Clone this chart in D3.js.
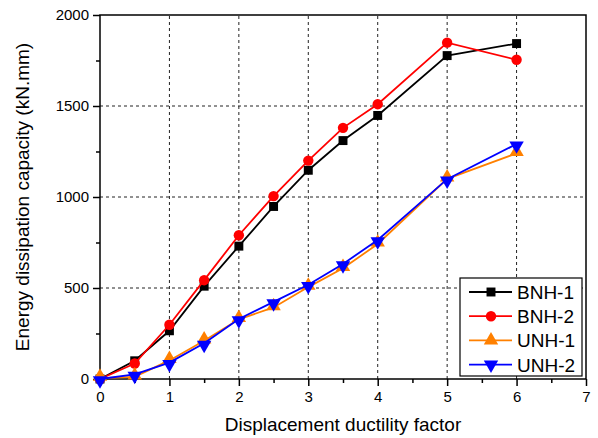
<head>
    <meta charset="utf-8" />
    <script src="https://d3js.org/d3.v7.min.js"></script>
</head>
<style>
    body { margin: 0; background: #fff; }
    text { font-family: "Liberation Sans", Arial, sans-serif; }
</style>
<body>
</body>
<script>
// ductility factor and energy values
var ductility = [0, 0.5, 1, 1.5, 2, 2.5, 3, 3.5, 4, 5, 6];
var bnh1 = [0, 100, 265, 510, 730, 948, 1147, 1310, 1448, 1777, 1843];
var bnh2 = [0, 85, 298, 543, 790, 1005, 1200, 1380, 1510, 1848, 1754];
var unh1 = [5, 12, 102, 210, 328, 393, 505, 608, 742, 1100, 1240];
var unh2 = [0, 25, 90, 196, 330, 424, 518, 632, 764, 1098, 1291];
var seriesNames = ["BNH-1", "BNH-2", "UNH-1", "UNH-2"];
var seriesColors = ["#000000", "#ff0000", "#ff8000", "#0000ff"];
var xTicks = [0, 1, 2, 3, 4, 5, 6, 7];
var yTicks = [0, 500, 1000, 1500, 2000];

var series = [bnh1, bnh2, unh1, unh2].map(function (vals, i) {
    return {
        name: seriesNames[i],
        color: seriesColors[i],
        values: vals.map(function (v, j) { return {x: ductility[j], y: v}; })
    };
});

var width = 598, height = 438;
var margin = {left: 100, top: 15, right: 12, bottom: 59};

var svg = d3.select("body").append("svg")
    .attr("width", width)
    .attr("height", height);

var x = d3.scaleLinear().domain([0, 7]).range([margin.left, width - margin.right]);
var y = d3.scaleLinear().domain([0, 2000]).range([height - margin.bottom, margin.top]);

// grid
svg.append("g").selectAll("line")
    .data([1, 2, 3, 4, 5, 6])
    .enter().append("line")
    .attr("x1", function (d) { return x(d); })
    .attr("x2", function (d) { return x(d); })
    .attr("y1", y(0)).attr("y2", y(2000))
    .attr("stroke", "#222").attr("stroke-width", 1)
    .attr("stroke-dasharray", "3,3");
svg.append("g").selectAll("line")
    .data([500, 1000, 1500])
    .enter().append("line")
    .attr("y1", function (d) { return y(d); })
    .attr("y2", function (d) { return y(d); })
    .attr("x1", x(0)).attr("x2", x(7))
    .attr("stroke", "#222").attr("stroke-width", 1)
    .attr("stroke-dasharray", "3,3");

// frame
svg.append("rect")
    .attr("x", x(0)).attr("y", y(2000))
    .attr("width", x(7) - x(0)).attr("height", y(0) - y(2000))
    .attr("fill", "none").attr("stroke", "#000").attr("stroke-width", 1.5);

// axes
svg.append("g")
    .attr("transform", "translate(0," + y(0) + ")")
    .call(d3.axisBottom(x).tickValues(xTicks).tickFormat(d3.format("d")).tickSize(7).tickPadding(5));
svg.append("g")
    .attr("transform", "translate(0," + y(0) + ")")
    .call(d3.axisBottom(x).tickValues([0.5, 1.5, 2.5, 3.5, 4.5, 5.5, 6.5]).tickFormat("").tickSize(4));
svg.append("g")
    .attr("transform", "translate(" + x(0) + ",0)")
    .call(d3.axisLeft(y).tickValues(yTicks).tickFormat(d3.format("d")).tickSize(7).tickPadding(4));
svg.append("g")
    .attr("transform", "translate(" + x(0) + ",0)")
    .call(d3.axisLeft(y).tickValues([250, 750, 1250, 1750]).tickFormat("").tickSize(4));

svg.selectAll(".domain").remove();
svg.selectAll(".tick line").attr("stroke", "#000").attr("stroke-width", 1.5);
svg.selectAll(".tick text")
    .attr("fill", "#000")
    .style("font-size", "15px")
    .style("font-family", "Liberation Sans, Arial, sans-serif");

// axis titles
svg.append("text")
    .attr("x", (x(0) + x(7)) / 2)
    .attr("y", 431)
    .attr("text-anchor", "middle")
    .style("font-size", "19px")
    .text("Displacement ductility factor");
svg.append("text")
    .attr("transform", "translate(29," + ((y(0) + y(2000)) / 2) + ") rotate(-90)")
    .attr("text-anchor", "middle")
    .style("font-size", "19px")
    .text("Energy dissipation capacity (kN.mm)");

// markers
var symbols = [d3.symbolSquare, d3.symbolCircle, d3.symbolTriangle, d3.symbolTriangle];
var symSizes = [80, 85, 90, 90];
var symRot = [0, 0, 0, 180];
function markerPath(i) { return d3.symbol().type(symbols[i]).size(symSizes[i])(); }

var line = d3.line()
    .x(function (d) { return x(d.x); })
    .y(function (d) { return y(d.y); });

series.forEach(function (s, i) {
    var g = svg.append("g");
    g.append("path")
        .datum(s.values)
        .attr("d", line)
        .attr("fill", "none")
        .attr("stroke", s.color)
        .attr("stroke-width", 1.8);
    g.selectAll("path.pt")
        .data(s.values)
        .enter().append("path")
        .attr("class", "pt")
        .attr("d", markerPath(i))
        .attr("transform", function (d) {
            var dy = i === 2 ? -1.5 : (i === 3 ? 1.5 : 0);
            return "translate(" + x(d.x) + "," + (y(d.y) + dy) + ") rotate(" + symRot[i] + ")";
        })
        .attr("fill", s.color);
});

// legend
var lg = svg.append("g").attr("transform", "translate(460,278)");
lg.append("rect")
    .attr("width", 122).attr("height", 98)
    .attr("fill", "#fff").attr("stroke", "#000").attr("stroke-width", 1.2);
series.forEach(function (s, i) {
    var yy = 14 + i * 24.2;
    lg.append("line")
        .attr("x1", 9).attr("x2", 52)
        .attr("y1", yy).attr("y2", yy)
        .attr("stroke", s.color).attr("stroke-width", 1.8);
    lg.append("path")
        .attr("d", markerPath(i))
        .attr("transform", "translate(31," + yy + ") rotate(" + symRot[i] + ")")
        .attr("fill", s.color);
    lg.append("text")
        .attr("x", 57).attr("y", yy + 7)
        .style("font-size", "19px")
        .text(s.name);
});
</script>
